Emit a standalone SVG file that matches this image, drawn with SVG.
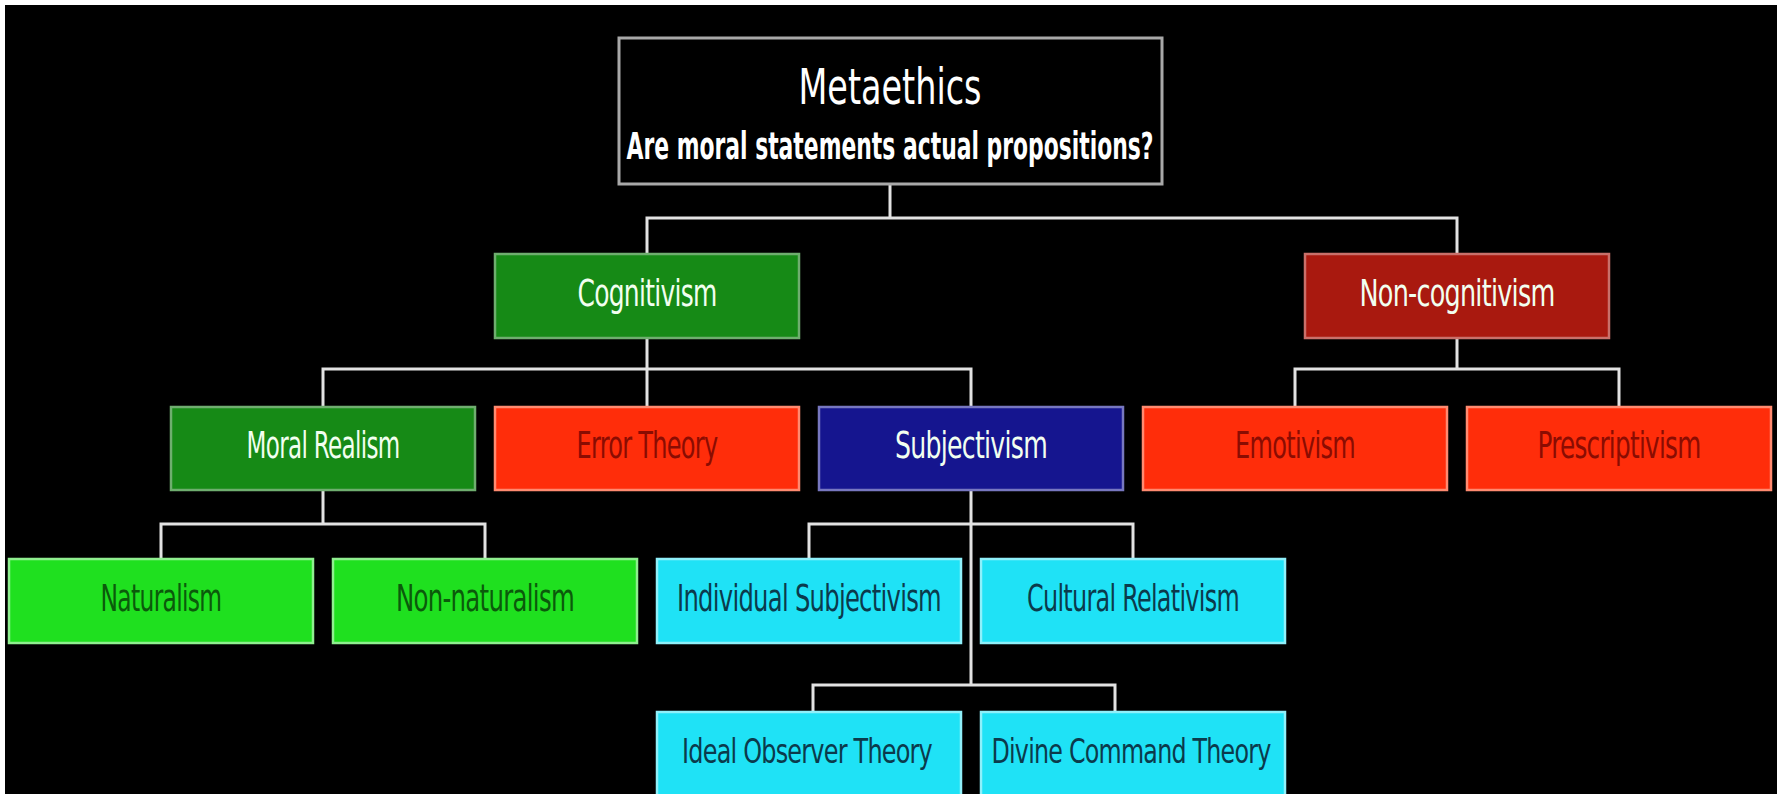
<svg xmlns="http://www.w3.org/2000/svg" width="1777" height="794" viewBox="0 0 1777 794">
<style>
.t{font-family:"DejaVu Sans","Liberation Sans",sans-serif;font-stretch:condensed;font-size:38px;text-anchor:middle;letter-spacing:-1px}
.s{font-size:34px}
.box{stroke-width:2.5}
.conn{fill:none;stroke:#e2e2e2;stroke-width:3}
.dg{fill:#168a16;stroke:#6fae6f}
.dr{fill:#a9190f;stroke:#c9706a}
.rd{fill:#ff2d0a;stroke:#ff8a70}
.bl{fill:#15158f;stroke:#7777c0}
.lg{fill:#1fe01f;stroke:#8fef8f}
.cy{fill:#1fe2f6;stroke:#8ff0fa}
.tw{fill:#f2fff0}
.tr{fill:#8a0c02}
.tg{fill:#0b5a0b}
.tc{fill:#0b3a4c}
</style>
<rect x="0" y="0" width="1777" height="794" fill="#ffffff"/>
<rect x="5" y="5" width="1772" height="789" fill="#000000"/>
<g id="connectors" class="conn">
<path d="M890,184 V218 M647,254 V218 H1457 V254"/>
<path d="M647,338 V407 M323,407 V369 H971 V407"/>
<path d="M1457,338 V369 M1295,407 V369 H1619 V407"/>
<path d="M323,490 V524 M161,559 V524 H485 V559"/>
<path d="M971,490 V685 M809,559 V524 H1133 V559"/>
<path d="M813,712 V685 H1115 V712"/>
</g>
<g id="metaethics">
<rect x="619" y="38" width="543" height="146" fill="#000" stroke="#a8a8a8" stroke-width="3"/>
<text x="890" y="104" font-family="DejaVu Sans,Liberation Sans,sans-serif" font-stretch="condensed" font-size="49" text-anchor="middle" fill="#fff" textLength="183" lengthAdjust="spacingAndGlyphs">Metaethics</text>
<text x="890" y="159" font-family="DejaVu Sans,Liberation Sans,sans-serif" font-stretch="condensed" font-weight="bold" font-size="37" text-anchor="middle" fill="#fff" textLength="527" lengthAdjust="spacingAndGlyphs">Are moral statements actual propositions?</text>
</g>
<g id="cognitivism">
<rect class="box dg" x="495" y="254" width="304" height="84"/>
<text class="t tw" x="647" y="306" textLength="139" lengthAdjust="spacingAndGlyphs">Cognitivism</text>
</g>
<g id="noncognitivism">
<rect class="box dr" x="1305" y="254" width="304" height="84"/>
<text class="t tw" x="1457" y="306" textLength="195" lengthAdjust="spacingAndGlyphs">Non-cognitivism</text>
</g>
<g id="moralrealism">
<rect class="box dg" x="171" y="407" width="304" height="83"/>
<text class="t tw" x="323" y="458" textLength="153" lengthAdjust="spacingAndGlyphs">Moral Realism</text>
</g>
<g id="errortheory">
<rect class="box rd" x="495" y="407" width="304" height="83"/>
<text class="t tr" x="647" y="458" textLength="141" lengthAdjust="spacingAndGlyphs">Error Theory</text>
</g>
<g id="subjectivism">
<rect class="box bl" x="819" y="407" width="304" height="83"/>
<text class="t tw" x="971" y="458" textLength="152" lengthAdjust="spacingAndGlyphs">Subjectivism</text>
</g>
<g id="emotivism">
<rect class="box rd" x="1143" y="407" width="304" height="83"/>
<text class="t tr" x="1295" y="458" textLength="120" lengthAdjust="spacingAndGlyphs">Emotivism</text>
</g>
<g id="prescriptivism">
<rect class="box rd" x="1467" y="407" width="304" height="83"/>
<text class="t tr" x="1619" y="458" textLength="163" lengthAdjust="spacingAndGlyphs">Prescriptivism</text>
</g>
<g id="naturalism">
<rect class="box lg" x="9" y="559" width="304" height="84"/>
<text class="t tg" x="161" y="611" textLength="121" lengthAdjust="spacingAndGlyphs">Naturalism</text>
</g>
<g id="nonnaturalism">
<rect class="box lg" x="333" y="559" width="304" height="84"/>
<text class="t tg" x="485" y="611" textLength="178" lengthAdjust="spacingAndGlyphs">Non-naturalism</text>
</g>
<g id="individualsubjectivism">
<rect class="box cy" x="657" y="559" width="304" height="84"/>
<text class="t tc" x="809" y="611" textLength="264" lengthAdjust="spacingAndGlyphs">Individual Subjectivism</text>
</g>
<g id="culturalrelativism">
<rect class="box cy" x="981" y="559" width="304" height="84"/>
<text class="t tc" x="1133" y="611" textLength="212" lengthAdjust="spacingAndGlyphs">Cultural Relativism</text>
</g>
<g id="idealobserver">
<rect class="box cy" x="657" y="712" width="304" height="90"/>
<text class="t s tc" x="807" y="763" textLength="250" lengthAdjust="spacingAndGlyphs">Ideal Observer Theory</text>
</g>
<g id="divinecommand">
<rect class="box cy" x="981" y="712" width="304" height="90"/>
<text class="t s tc" x="1131" y="763" textLength="279" lengthAdjust="spacingAndGlyphs">Divine Command Theory</text>
</g>
</svg>
